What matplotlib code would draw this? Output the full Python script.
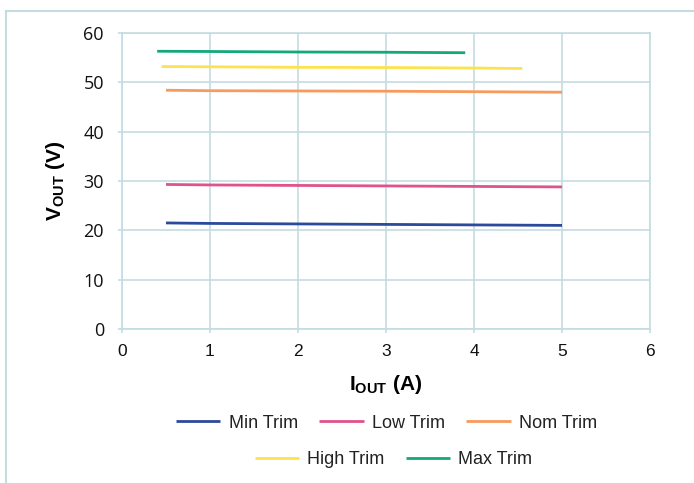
import matplotlib
matplotlib.use("Agg")
import matplotlib.pyplot as plt
from matplotlib.lines import Line2D

plt.rcParams['font.family'] = ['Liberation Sans', 'DejaVu Sans']
plt.rcParams['mathtext.fontset'] = 'custom'
plt.rcParams['mathtext.rm'] = 'Liberation Sans'
plt.rcParams['mathtext.bf'] = 'Liberation Sans:bold'

# Data
series_names = ["Min Trim", "Low Trim", "Nom Trim", "High Trim", "Max Trim"]
i_min = [0.5, 1, 2, 3, 4, 5]
v_min = [21.5, 21.4, 21.3, 21.2, 21.1, 21.0]
i_low = [0.5, 1, 2, 3, 4, 5]
v_low = [29.3, 29.2, 29.1, 29.0, 28.9, 28.8]
i_nom = [0.5, 1, 2, 3, 4, 5]
v_nom = [48.4, 48.3, 48.25, 48.2, 48.1, 48.0]
i_high = [0.45, 1, 2, 3, 4, 4.55]
v_high = [53.2, 53.15, 53.05, 53.0, 52.9, 52.8]
i_max = [0.4, 1, 2, 3, 3.9]
v_max = [56.3, 56.25, 56.15, 56.1, 56.0]
x_ticks = [0, 1, 2, 3, 4, 5, 6]
y_ticks = [0, 10, 20, 30, 40, 50, 60]
x_tick_labels = ["0", "1", "2", "3", "4", "5", "6"]
y_tick_labels = ["0", "10", "20", "30", "40", "50", "60"]

colors = ["#2b4a9b", "#e0528b", "#f89a5c", "#fde24f", "#12a87a"]
grid_c = "#c3dbe3"

W, H = 694, 483
fig = plt.figure(figsize=(W / 100, H / 100), dpi=100)
ax = fig.add_axes([122 / W, 1 - 329 / H, (650 - 122) / W, (329 - 33) / H])

xs = [i_min, i_low, i_nom, i_high, i_max]
ys = [v_min, v_low, v_nom, v_high, v_max]
handles = []
for x, y, c, n in zip(xs, ys, colors, series_names):
    h, = ax.plot(x, y, color=c, lw=2.0, label=n, solid_capstyle='butt')
    handles.append(h)

ax.set_xlim(0, 6)
ax.set_ylim(0, 60)
ax.set_xticks(x_ticks, labels=x_tick_labels, fontsize=12.5)
ax.set_yticks(y_ticks, labels=y_tick_labels, fontsize=13, fontfamily=['Open Sans', 'DejaVu Sans'])
ax.grid(True, color=grid_c, lw=1.2)
ax.set_axisbelow(True)
for s in ax.spines.values():
    s.set_color(grid_c)
    s.set_linewidth(1.2)
ax.tick_params(axis='both', color=grid_c, length=3, width=1.2, labelcolor='#111111')
ax.tick_params(axis='x', pad=8)
ax.tick_params(axis='y', pad=10)

ax.set_xlabel(r'$\mathbf{I_{OUT}}$ (A)', fontsize=15, fontweight='bold', labelpad=10)
ax.set_ylabel(r'$\mathbf{V_{OUT}}$ (V)', fontsize=15, fontweight='bold', labelpad=12)

leg_kw = dict(loc='center', frameon=False, fontsize=13, handlelength=2.45,
              columnspacing=1.2, handletextpad=0.45, borderpad=0, borderaxespad=0)
leg1 = fig.legend(handles[:3], series_names[:3], bbox_to_anchor=(386.5 / W, 1 - 423 / H), ncol=3, **leg_kw)
leg2 = fig.legend(handles[3:], series_names[3:], bbox_to_anchor=(393.5 / W, 1 - 460 / H), ncol=2, **leg_kw)
for lg in (leg1, leg2):
    for t in lg.get_texts():
        t.set_color('#222222')
    for l in lg.get_lines():
        l.set_linewidth(2.0)

# outer border (light frame)
fig.add_artist(Line2D([5.5 / W, 5.5 / W], [0, 1 - 10.5 / H], transform=fig.transFigure, color=grid_c, lw=1.5))
fig.add_artist(Line2D([5.5 / W, 1], [1 - 10.5 / H, 1 - 10.5 / H], transform=fig.transFigure, color=grid_c, lw=1.5))

fig.savefig("out.png", dpi=100)
